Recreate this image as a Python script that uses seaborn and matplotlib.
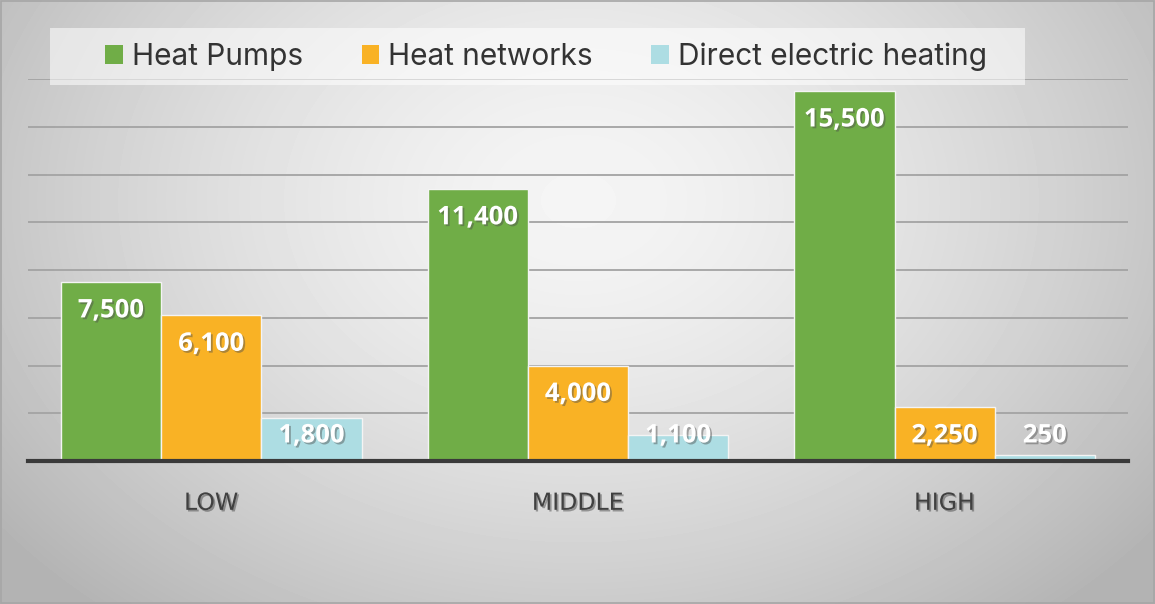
import numpy as np
import pandas as pd
import seaborn as sns
import matplotlib.pyplot as plt
import matplotlib.patheffects as pe
from matplotlib.patches import Patch

scenarios = ['LOW', 'MIDDLE', 'HIGH']
technologies = ['Heat Pumps', 'Heat networks', 'Direct electric heating']
heat_pumps = [7500, 11400, 15500]
heat_networks = [6100, 4000, 2250]
direct_electric = [1800, 1100, 250]
colors = ['#70AD47', '#F9B225', '#ADDDE3']

df = pd.DataFrame({
    'scenario': scenarios * 3,
    'tech': [technologies[0]] * 3 + [technologies[1]] * 3 + [technologies[2]] * 3,
    'value': heat_pumps + heat_networks + direct_electric,
})

sns.set_style('white')
plt.rcParams['font.family'] = ['Open Sans', 'DejaVu Sans']

fig = plt.figure(figsize=(11.55, 6.04), dpi=100)

# radial grey background
bg = fig.add_axes([0, 0, 1, 1], zorder=-5)
yy, xx = np.mgrid[0:604, 0:1155]
r = np.sqrt(((xx - 578) / 700.0) ** 2 + ((yy - 200) / 520.0) ** 2)
shade = np.clip(0.96 - 0.24 * r ** 1.5, 0.70, 0.965)
bg.imshow(shade, cmap='gray', vmin=0, vmax=1, aspect='auto', extent=[0, 1, 0, 1])
bg.set_axis_off()
fig.patches.append(plt.Rectangle((0.0008, 0.0015), 0.9984, 0.997, transform=fig.transFigure,
                                 fill=False, edgecolor='#A6A6A6', lw=1.2))

ax = fig.add_axes([0.0242, 0.2368, 0.9524, 0.6322])
ax.patch.set_alpha(0)
sns.barplot(data=df, x='scenario', y='value', hue='tech', palette=colors, saturation=1,
            width=0.82, gap=0, edgecolor='#F4F4F4', linewidth=1.0, ax=ax, legend=False)

ax.set_xlim(-0.5, 2.5)
ax.set_ylim(0, 16000)
ax.set_yticks(range(0, 16001, 2000))
ax.yaxis.grid(True, color='#A3A3A3', lw=1.3)
ax.set_axisbelow(True)
ax.tick_params(axis='y', left=False, labelleft=False)
ax.tick_params(axis='x', bottom=False, pad=18, labelsize=17, labelcolor='#404040')
for lbl in ax.get_xticklabels():
    lbl.set_family(['Liberation Sans Narrow', 'DejaVu Sans'])
    lbl.set_path_effects([pe.SimplePatchShadow(offset=(1.2, -1.2), alpha=0.35), pe.Normal()])
ax.set_xlabel('')
ax.set_ylabel('')
for s in ['top', 'right', 'left']:
    ax.spines[s].set_visible(False)
ax.spines['bottom'].set_color('#3A3A3A')
ax.spines['bottom'].set_linewidth(3)

for cont in ax.containers:
    for bar in cont:
        v = bar.get_height()
        y = max(v - 1170, 1090)
        ax.text(bar.get_x() + bar.get_width() / 2, y, f'{v:,.0f}', ha='center', va='center',
                color='white', fontsize=18.5, fontweight='bold',
                path_effects=[pe.SimplePatchShadow(offset=(1.3, -1.3), alpha=0.45), pe.Normal()])

# legend band
fig.patches.append(plt.Rectangle((0.0433, 0.859), 0.8441, 0.0947, transform=fig.transFigure,
                                 facecolor='white', alpha=0.55, edgecolor='none', zorder=1))
handles = [Patch(facecolor=c, edgecolor='none') for c in colors]
leg = fig.legend(handles, technologies, loc='center', bbox_to_anchor=(0.473, 0.906), ncol=3,
                 fontsize=21.5, frameon=False, handlelength=0.6, handleheight=0.6,
                 handletextpad=0.3, columnspacing=1.95)
for t in leg.get_texts():
    t.set_color('#333333')
    t.set_family(['Inter', 'DejaVu Sans'])

fig.savefig('out.png', dpi=100)
